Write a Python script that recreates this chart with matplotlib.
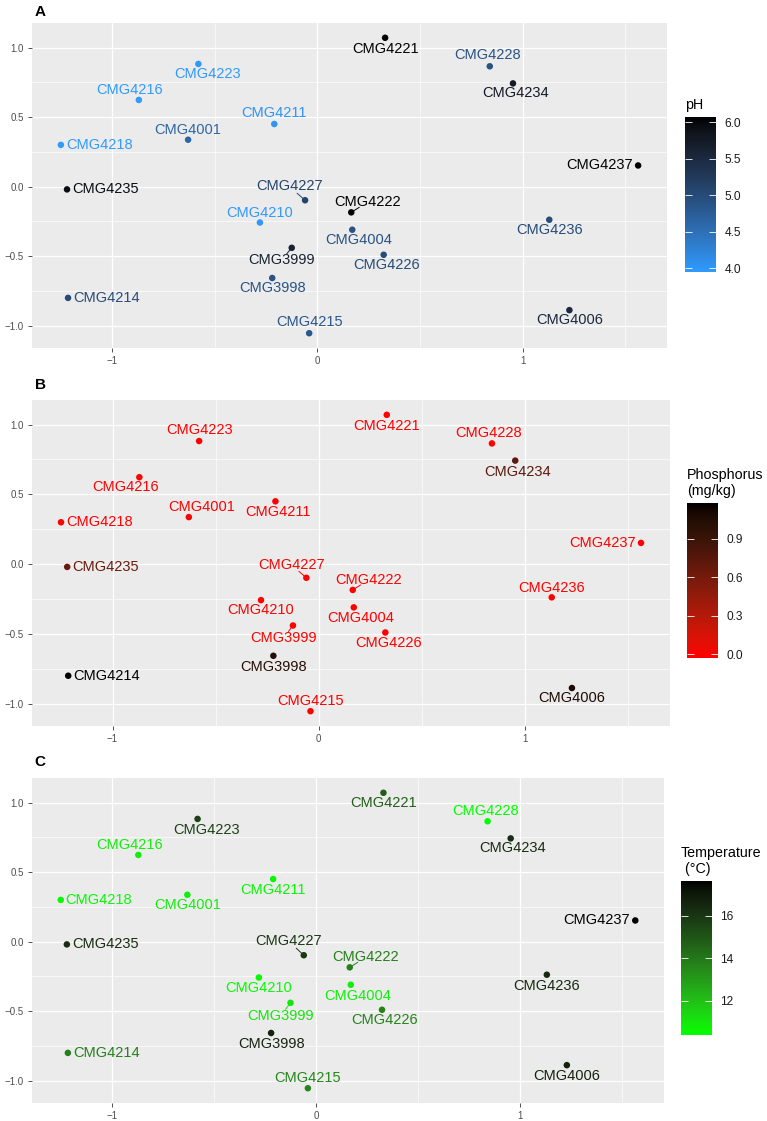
import numpy as np
import matplotlib
matplotlib.use("Agg")
import matplotlib.pyplot as plt
from matplotlib.colors import LinearSegmentedColormap, Normalize, to_rgb
from matplotlib.ticker import AutoMinorLocator, FuncFormatter

plt.rcParams['font.family'] = ['Liberation Sans', 'DejaVu Sans']

# --- data ---
samples = ["CMG4221", "CMG4223", "CMG4216", "CMG4001", "CMG4211", "CMG4218",
           "CMG4235", "CMG4227", "CMG4222", "CMG4210", "CMG4004", "CMG3999",
           "CMG4226", "CMG3998", "CMG4214", "CMG4215", "CMG4228", "CMG4234",
           "CMG4237", "CMG4236", "CMG4006"]
pc1 = [0.33, -0.58, -0.87, -0.63, -0.21, -1.25, -1.22, -0.06, 0.165, -0.28, 0.17,
       -0.125, 0.323, -0.22, -1.215, -0.04, 0.84, 0.953, 1.563, 1.13, 1.228]
pc2 = [1.07, 0.882, 0.623, 0.337, 0.45, 0.30, -0.02, -0.098, -0.185, -0.258, -0.31,
       -0.44, -0.49, -0.657, -0.80, -1.054, 0.865, 0.742, 0.152, -0.238, -0.888]
ph = [6.0, 4.02, 4.0, 4.65, 4.08, 4.0, 5.9, 5.1, 6.02, 4.03, 4.9,
      5.6, 5.0, 4.9, 5.0, 4.85, 4.9, 5.7, 6.0, 5.0, 5.5]
phosphorus = [0.0, 0.0, 0.03, 0.02, 0.0, 0.0, 0.65, 0.04, 0.0, 0.04, 0.0,
              0.04, 0.0, 1.0, 1.15, 0.0, 0.0, 0.72, 0.0, 0.02, 1.05]
temperature = [14.7, 15.6, 11.0, 11.0, 10.8, 10.7, 16.2, 15.8, 13.8, 10.7, 11.0,
               11.2, 13.7, 16.5, 13.8, 13.6, 10.58, 16.2, 17.46, 16.3, 16.5]

# label placement (pixels, dy up); "L"/"R" = text left/right of the point
seg = {"CMG4227", "CMG3999", "CMG4222"}
offs_a = {"CMG4221": (0, -11), "CMG4223": (9, -10), "CMG4216": (-9, 10), "CMG4001": (0, 10),
          "CMG4211": (0, 11), "CMG4218": "L", "CMG4235": "L", "CMG4227": (-16, 14),
          "CMG4222": (16, 10), "CMG4210": (0, 10), "CMG4004": (6, -10), "CMG3999": (-10, -12),
          "CMG4226": (3, -10), "CMG3998": (0, -10), "CMG4214": "L", "CMG4215": (0, 11),
          "CMG4228": (-2, 11), "CMG4234": (3, -10), "CMG4237": "R", "CMG4236": (0, -10),
          "CMG4006": (0, -10)}
offs_b = {"CMG4221": (0, -11), "CMG4223": (0, 11), "CMG4216": (-14, -10), "CMG4001": (13, 10),
          "CMG4211": (3, -11), "CMG4218": "L", "CMG4235": "L", "CMG4227": (-15, 13),
          "CMG4222": (16, 10), "CMG4210": (0, -10), "CMG4004": (7, -11), "CMG3999": (-9, -12),
          "CMG4226": (3, -11), "CMG3998": (0, -11), "CMG4214": "L", "CMG4215": (0, 10),
          "CMG4228": (-3, 10), "CMG4234": (2, -11), "CMG4237": "R", "CMG4236": (0, 9),
          "CMG4006": (0, -10)}
offs_c = {"CMG4221": (0, -10), "CMG4223": (9, -11), "CMG4216": (-9, 10), "CMG4001": (0, -10),
          "CMG4211": (0, -11), "CMG4218": "L", "CMG4235": "L", "CMG4227": (-15, 14),
          "CMG4222": (16, 10), "CMG4210": (0, -10), "CMG4004": (7, -11), "CMG3999": (-10, -13),
          "CMG4226": (3, -10), "CMG3998": (0, -11), "CMG4214": "L", "CMG4215": (0, 10),
          "CMG4228": (-2, 10), "CMG4234": (2, -10), "CMG4237": "R", "CMG4236": (0, -11),
          "CMG4006": (0, -11)}

W, H = 767, 1121

# gradient in Lab space, like ggplot's scale_colour_gradient
M = np.array([[0.4124, 0.3576, 0.1805], [0.2126, 0.7152, 0.0722], [0.0193, 0.1192, 0.9505]])
WHITE = M.sum(axis=1)


def rgb2lab(c):
    c = np.asarray(c, float)
    lin = np.where(c <= 0.04045, c / 12.92, ((c + 0.055) / 1.055) ** 2.4)
    xyz = M @ lin / WHITE
    f = np.where(xyz > (6 / 29) ** 3, np.cbrt(xyz), xyz / (3 * (6 / 29) ** 2) + 4 / 29)
    return np.array([116 * f[1] - 16, 500 * (f[0] - f[1]), 200 * (f[1] - f[2])])


def lab2rgb(lab):
    L, a, b = lab
    fy = (L + 16) / 116
    f = np.array([fy + a / 500, fy, fy - b / 200])
    xyz = np.where(f > 6 / 29, f ** 3, 3 * (6 / 29) ** 2 * (f - 4 / 29)) * WHITE
    lin = np.clip(np.linalg.solve(M, xyz), 0, 1)
    return np.clip(np.where(lin <= 0.0031308, 12.92 * lin, 1.055 * lin ** (1 / 2.4) - 0.055), 0, 1)


def lab_cmap(name, low, high, n=256):
    l0, l1 = rgb2lab(to_rgb(low)), rgb2lab(to_rgb(high))
    return LinearSegmentedColormap.from_list(name, [lab2rgb(l0 + t * (l1 - l0)) for t in np.linspace(0, 1, n)])


def rect(l, t, r, b):
    return [l / W, 1 - b / H, (r - l) / W, (b - t) / H]


def panel(fig, box, cbox, values, cmap, title, ticks, tlabels, letter, lxy, offs):
    ax = fig.add_axes(rect(*box))
    ax.set_facecolor('#EBEBEB')
    for s in ax.spines.values():
        s.set_visible(False)
    norm = Normalize(min(values), max(values))
    cols = cmap(norm(np.array(values)))
    ax.scatter(pc1, pc2, s=22, c=cols, linewidths=0, zorder=3)
    ax.margins(x=0.05, y=0.05)
    ax.set_xticks([-1, 0, 1])
    ax.set_yticks([-1, -0.5, 0, 0.5, 1])
    ax.yaxis.set_major_formatter(FuncFormatter(lambda v, p: f"{v:.1f}".replace('-', '\u2212')))
    ax.xaxis.set_minor_locator(AutoMinorLocator(2))
    ax.yaxis.set_minor_locator(AutoMinorLocator(2))
    ax.grid(which='major', color='white', lw=0.9)
    ax.grid(which='minor', color='white', lw=0.45)
    ax.set_axisbelow(True)
    ax.tick_params(which='major', length=3, width=0.6, color='#333333', pad=3,
                   labelsize=7, labelcolor='#4D4D4D')
    ax.tick_params(which='minor', length=0)

    for name, x, y, col in zip(samples, pc1, pc2, cols):
        o = offs[name]
        if o == "L":
            ax.annotate(name, (x, y), xytext=(5, 0), textcoords='offset pixels',
                        ha='left', va='center', fontsize=10.5, color=col, zorder=4)
        elif o == "R":
            ax.annotate(name, (x, y), xytext=(-5, 0), textcoords='offset pixels',
                        ha='right', va='center', fontsize=10.5, color=col, zorder=4)
        else:
            ax.annotate(name, (x, y), xytext=o, textcoords='offset pixels',
                        ha='center', va='center', fontsize=10.5, color=col, zorder=4)
            if name in seg:
                # short leader line from the point towards its label
                ax.annotate('', (x, y), xytext=(o[0] * 0.5, o[1] * 0.5), textcoords='offset pixels',
                            arrowprops=dict(arrowstyle='-', color=col, lw=0.7, shrinkA=0, shrinkB=2),
                            zorder=2)

    # colour bar, ticks at bin centres like ggplot's nbin=20 bar
    cax = fig.add_axes(rect(*cbox))
    lo, hi = norm.vmin, norm.vmax
    pad = 0.025 / 0.95 * (hi - lo)
    grad = np.linspace(0, 1, 256)[:, None]
    cax.imshow(grad, cmap=cmap, aspect='auto', origin='lower',
               extent=[0, 1, lo - pad, hi + pad])
    cax.set_xlim(0, 1)
    cax.set_ylim(lo - pad, hi + pad)
    cax.set_xticks([])
    cax.set_yticks(ticks)
    cax.set_yticklabels(tlabels)
    cax.yaxis.tick_right()
    cax.tick_params(axis='y', direction='in', left=True, right=True, length=5, width=0.6,
                    color='white', labelsize=8.6, labelcolor='#1A1A1A', pad=6)
    for s in cax.spines.values():
        s.set_visible(False)
    fig.text(cbox[0] / W, 1 - (cbox[1] - 5) / H, title, ha='left', va='bottom',
             fontsize=10.3, color='black', linespacing=1.15)
    fig.text(lxy[0] / W, 1 - lxy[1] / H, letter, ha='center', va='center',
             fontsize=11, fontweight='bold')


fig = plt.figure(figsize=(W / 100, H / 100), dpi=100)

panel(fig, (32, 23, 667, 348), (685, 117, 716, 272), ph,
      lab_cmap('ph', '#2F9BFF', 'black'), 'pH',
      [4.0, 4.5, 5.0, 5.5, 6.0], ['4.0', '4.5', '5.0', '5.5', '6.0'], 'A', (40, 12), offs_a)
panel(fig, (32, 400, 670, 726), (687, 503, 718, 658), phosphorus,
      lab_cmap('p', '#FF0000', 'black'), 'Phosphorus\n(mg/kg)',
      [0.0, 0.3, 0.6, 0.9], ['0.0', '0.3', '0.6', '0.9'], 'B', (40, 385), offs_b)
panel(fig, (32, 778, 664, 1103), (681, 881, 712, 1035), temperature,
      lab_cmap('t', '#00FF00', 'black'), 'Temperature\n (\u00b0C)',
      [12, 14, 16], ['12', '14', '16'], 'C', (40, 762), offs_c)

fig.savefig('out.png', dpi=100)
